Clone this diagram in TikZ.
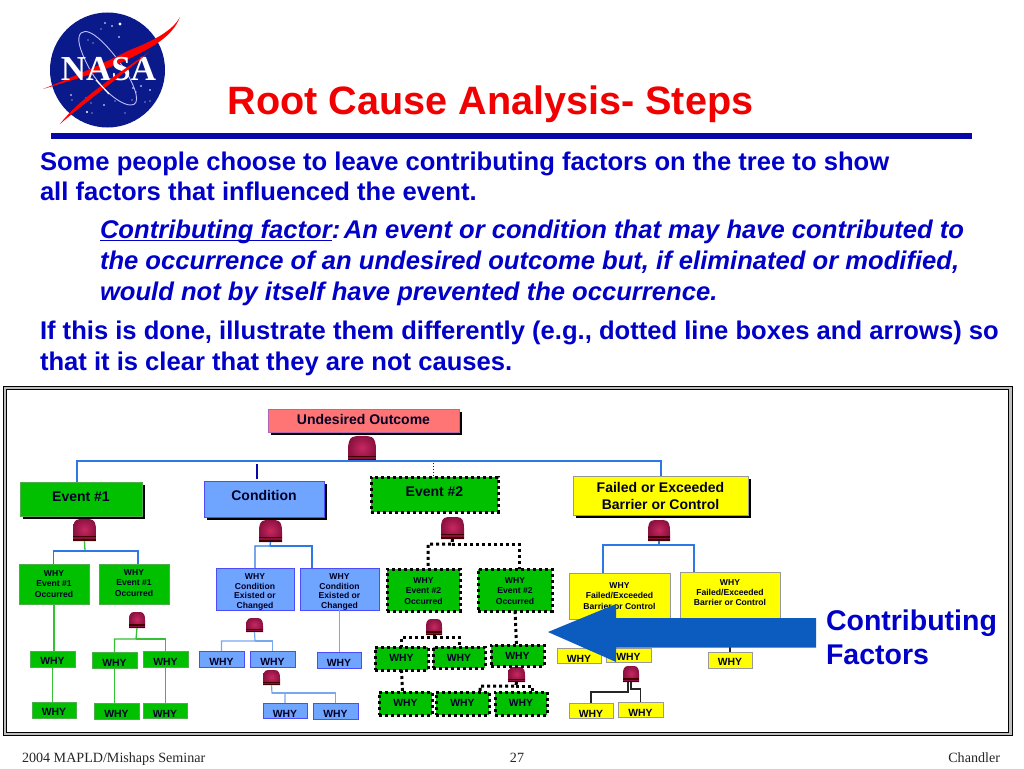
\documentclass[tikz,border=0pt]{standalone}
\usepackage{fontspec}
\setmainfont{Liberation Sans}
\newfontfamily\serifft{Liberation Serif}
\usetikzlibrary{shadows,calc}
\definecolor{nasablue}{HTML}{0B1A8A}
\definecolor{rulecol}{HTML}{0808A8}
\definecolor{headred}{HTML}{F00000}
\definecolor{txtblue}{HTML}{0000C8}
\definecolor{boxgreen}{HTML}{00C000}
\definecolor{boxblue}{HTML}{6FA5FF}
\definecolor{boxyellow}{HTML}{FFFF00}
\definecolor{boxpink}{HTML}{FF7474}
\definecolor{busblue}{HTML}{2E78E6}
\definecolor{lineblue}{HTML}{78A8F0}
\definecolor{linegreen}{HTML}{35C035}
\definecolor{arrowblue}{HTML}{0B5CBE}
\definecolor{gatelight}{HTML}{C8285F}
\definecolor{gatedark}{HTML}{8A1040}
\newcommand\dn[1]{\rule{0pt}{\dimexpr\fontcharht\font`H+#1pt+#1pt\relax}}
\newcommand\up[1]{\rule[\dimexpr-#1pt-#1pt\relax]{0pt}{0pt}}
\newcommand\myul[1]{\setbox0\hbox{#1}\rlap{\rule[-3.4pt]{\wd0}{1.7pt}}\box0 }
\tikzset{
  base/.style={inner sep=0pt,outer sep=0pt,align=center,font=\bfseries,text=black!85!blue},
  shadowed/.style={drop shadow={opacity=1,fill=black,shadow xshift=3pt,shadow yshift=-3pt}},
  gbox/.style={base,fill=boxgreen,draw=green!55!black!70,line width=.8pt},
  bbox/.style={base,fill=boxblue,draw=blue!70!white,line width=.8pt},
  ybox/.style={base,fill=boxyellow,draw=black!40,line width=.8pt},
  pbox/.style={base,fill=boxpink,draw=violet!60,line width=.8pt},
  dbox/.style={base,fill=boxgreen,draw=black,line width=3pt,dash pattern=on 3pt off 3pt},
  big/.style={font=\fontsize{14}{17}\selectfont\bfseries},
  mid/.style={font=\fontsize{8.6}{10.4}\selectfont\bfseries},
  sml/.style={font=\fontsize{10.4}{12}\selectfont\bfseries},
  busline/.style={draw=busblue,line width=1.3pt},
  lbline/.style={draw=lineblue,line width=1.2pt},
  gnline/.style={draw=linegreen,line width=1.3pt},
  kline/.style={draw=black!85,line width=1.1pt},
  dline/.style={draw=black,line width=3pt,dash pattern=on 3pt off 3pt},
  headtxt/.style={anchor=base west,inner sep=0pt,outer sep=0pt,text=txtblue,font=\fontsize{25.6}{28}\selectfont\bfseries},
  itxt/.style={anchor=base west,inner sep=0pt,outer sep=0pt,text=txtblue,font=\fontsize{25.6}{28}\selectfont\bfseries\itshape},
  foot/.style={anchor=base,inner sep=0pt,outer sep=0pt,font=\fontsize{14.1}{16}\selectfont\serifft,text=black!85},
}
% box: style, name, x1, y1, x2, y2, text
\newcommand\mybox[7]{%
  \pgfmathsetmacro\cxx{(#3+#5)/2}\pgfmathsetmacro\cyy{(#4+#6)/2}%
  \pgfmathsetmacro\wdd{#5-#3}\pgfmathsetmacro\htt{#6-#4}%
  \node[#1,minimum width=\wdd pt,minimum height=\htt pt] (#2) at (\cxx,\cyy) {#7};}
% gate: name, x1, y1, x2, y2
\newcommand\mygate[5]{%
  \pgfmathsetmacro\cxx{(#2+#4)/2}\pgfmathsetmacro\cyy{(#3+#5)/2}%
  \pgfmathsetmacro\wdd{#4-#2}\pgfmathsetmacro\htt{#5-#3}%
  \pgfmathsetmacro\ymm{#3+(#4-#2)/2}\pgfmathsetmacro\ybb{#5-(#5-#3)*0.22}%
  \pgfmathsetmacro\kk{(#4-#2)*0.276}%
  \shade[inner color=gatelight,outer color=gatedark]
    (#2,#5) -- (#2,\ymm) .. controls (#2,\ymm-2*\kk+0) and (\cxx-\kk,#3) .. (\cxx,#3)
    .. controls (\cxx+\kk,#3) and (#4,\ymm-2*\kk) .. (#4,\ymm) -- (#4,#5) -- cycle;
  \fill[black!75!red] (#2,\ybb) rectangle (#4,#5);
  \fill[gatedark] (#2,\ybb+1.2) rectangle (#4,#5-1.6);
  \node[inner sep=0pt,outer sep=0pt,minimum width=\wdd pt,minimum height=\htt pt] (#1) at (\cxx,\cyy) {};}
\begin{document}
\begin{tikzpicture}[x=1pt,y=-1pt]
\useasboundingbox (0,0) rectangle (1024,768);
\fill[white] (0,0) rectangle (1024,768);

% NASA logo
\fill[nasablue] (107.5,70) circle[radius=57.5pt];
\foreach \px/\py/\r in {120/24/1.6,105/23/.8,112/26/.8,101/29/.7,119/37/.9,88/40/.7,93/43/.7,71/95/.8,72/100/.7,86/98/.7,91/103/.7,87/112/1.2,104/105/.8,125/113/.7,133/88/.8,141/86/.8,150/90/.8,145/102/.7,132/100/.7,115/101/.6,80/106/.7,92/113/.7,136/92/.7,150/101/.6}
  \fill[white] (\px,\py) circle[radius=\r pt];
\draw[white!75!blue,line width=.9pt] (81,33) .. controls (90,25) and (112,50) .. (125,70)
   .. controls (136,88) and (142,106) .. (130,105)
   .. controls (118,104) and (98,86) .. (88,66) .. controls (80,50) and (76,38) .. (81,33) -- cycle;
\fill[red] (43,89) .. controls (85,72) and (110,60) .. (130,50) .. controls (150,42) and (172,32) .. (180,17)
   .. controls (172,38) and (150,48) .. (127,60) .. controls (105,70) and (80,78) .. (43,89) -- cycle;
\node[inner sep=0pt,outer sep=0pt,anchor=base,font=\fontsize{35}{36}\selectfont\serifft\bfseries,text=white] (nasa) at (108.5,81) {NASA};
\fill[red] (60,124) .. controls (80,98) and (115,76) .. (149,52) .. controls (118,79) and (88,100) .. (60,124) -- cycle;
\draw[white,line width=1.2pt] (96,80) -- (109,94);

% Title and rule
\node[anchor=base west,inner sep=0pt,outer sep=0pt,text=headred,font=\fontsize{39.6}{42}\selectfont\bfseries] (title) at (227.5,114) {Root Cause Analysis- Steps};
\fill[rulecol] (51,133) rectangle (972,139);

% Body text
\node[headtxt] (t1) at (40,170) {Some people choose to leave contributing factors on the tree to show};
\node[headtxt] (t2) at (40,200) {all factors that influenced the event.};
\node[itxt] (t3) at (100,238) {\myul{Contributing factor}\unskip:\hspace{3.6pt}An event or condition that may have contributed to};
\node[itxt] (t4) at (100,269) {the occurrence of an undesired outcome but, if eliminated or modified,};
\node[itxt] (t5) at (100,300) {would not by itself have prevented the occurrence.};
\node[headtxt] (t6) at (40,339) {If this is done, illustrate them differently (e.g., dotted line boxes and arrows) so};
\node[headtxt] (t7) at (40,370) {that it is clear that they are not causes.};

% Frame
\draw[black!25,line width=3.2pt] (4.8,388) rectangle (1010.2,734);
\draw[black,line width=1pt] (3,386.3) rectangle (1012,735.5);
\draw[black,line width=1pt] (6.5,389.7) rectangle (1008.5,732.5);

% Gates
\mygate{g0}{348}{436}{376}{461}
\mygate{g1}{73}{519}{96}{541}
\mygate{g2}{259}{520}{282}{542}
\mygate{g3}{441}{517}{464}{539}
\mygate{g4}{648}{520}{670}{541}
\mygate{g5}{129}{612}{145}{628}
\mygate{g6}{246}{618}{263}{632}
\mygate{g7}{263}{670}{280}{685}
\mygate{g8}{426}{619}{442}{635}
\mygate{g9}{508}{667}{525}{682}
\mygate{g10}{623}{666}{639}{682}

% Boxes
\mybox{pbox,shadowed,big}{uo}{268}{409}{459}{432}{\up{1}Undesired Outcome}
\mybox{gbox,shadowed,big}{e1}{20}{482}{142}{516}{\up{2}Event \#1}
\mybox{bbox,shadowed,big}{c1}{204}{481}{324}{517}{\up{4}Condition}
\mybox{dbox,big}{e2}{371}{477}{498}{512}{\up{3}Event \#2}
\mybox{ybox,shadowed,big}{f1}{573}{476}{748}{515}{Failed or Exceeded\\Barrier or Control}

\mybox{gbox,mid}{ea}{19}{564}{89}{604}{WHY\\Event \#1\\Occurred}
\mybox{gbox,mid}{eb}{99}{564}{169}{604}{WHY\\Event \#1\\Occurred\up{1}}
\mybox{bbox,mid}{ca}{216}{568}{294}{610}{\dn{3}WHY\\[-1pt]Condition\\[-1pt]Existed or\\[-1pt]Changed}
\mybox{bbox,mid}{cb}{300}{568}{379}{610}{\dn{3}WHY\\[-1pt]Condition\\[-1pt]Existed or\\[-1pt]Changed}
\mybox{dbox,mid}{da}{387}{569}{460}{611}{\dn{1}WHY\\Event \#2\\Occurred}
\mybox{dbox,mid}{db}{478}{569}{552}{611}{\dn{1}WHY\\Event \#2\\Occurred}
\mybox{ybox,mid}{fa}{569}{573}{670}{619}{WHY\\Failed/Exceeded\\Barrier or Control}
\mybox{ybox,mid}{fb}{680}{572}{780}{618}{WHY\\Failed/Exceeded\\Barrier or Control\up{2.5}}

\mybox{gbox,sml}{s1}{30}{651}{75}{667}{\dn{2}WHY}
\mybox{gbox,sml}{s2}{92}{652}{137}{668}{\dn{3}WHY}
\mybox{gbox,sml}{s3}{143}{651}{188}{667}{\dn{3}WHY}
\mybox{gbox,sml}{s4}{32}{702}{76}{718}{\dn{2}WHY}
\mybox{gbox,sml}{s5}{94}{703}{139}{719}{\dn{3}WHY}
\mybox{gbox,sml}{s6}{143}{703}{187}{718}{\dn{3}WHY}
\mybox{bbox,sml}{b1}{199}{651}{244}{667}{\dn{3}WHY}
\mybox{bbox,sml}{b2}{250}{651}{295}{667}{\dn{3}WHY}
\mybox{bbox,sml}{b3}{317}{652}{361}{668}{\dn{3}WHY}
\mybox{bbox,sml}{b4}{263}{703}{307}{718}{\dn{3}WHY}
\mybox{bbox,sml}{b5}{313}{703}{358}{719}{\dn{3}WHY}
\mybox{dbox,sml}{d1}{375}{647}{428}{670}{\up{1}WHY}
\mybox{dbox,sml}{d2}{433}{647}{485}{668}{WHY}
\mybox{dbox,sml}{d3}{491}{645}{544}{666}{WHY}
\mybox{dbox,sml}{d4}{379}{692}{432}{715}{\up{1}WHY}
\mybox{dbox,sml}{d5}{436}{692}{489}{715}{\up{1}WHY}
\mybox{dbox,sml}{d6}{495}{692}{547}{715}{\up{1}WHY}
\mybox{ybox,sml}{y1}{557}{648}{601}{663}{\dn{3}WHY}
\mybox{ybox,sml}{y2}{606}{648}{651}{662}{\dn{2}WHY}
\mybox{ybox,sml}{y3}{708}{652}{752}{668}{\dn{2}WHY}
\mybox{ybox,sml}{y4}{569}{703}{613}{718}{\dn{3}WHY}
\mybox{ybox,sml}{y5}{618}{702}{663}{717}{\dn{3}WHY}

% Bus coordinates
\coordinate (bus0) at (362,461);
\coordinate (bus1) at (85,551);
\coordinate (bus2) at (270,546);
\coordinate (bus3) at (452,544);
\coordinate (bus4) at (659,545);
\coordinate (bus5) at (136,639);
\coordinate (bus6) at (255,641);
\coordinate (bus7) at (272,693);
\coordinate (bus8) at (434,637);
\coordinate (bus9) at (516,686);
\coordinate (bus10) at (631,689);
\coordinate (bus10b) at (628,692);

% Connectors
\draw[busline] (g0.south) -- (bus0) -| ([xshift=-4pt]e1.north);
\draw[busline] (bus0) -| ([xshift=.5pt]f1.north);
\draw[draw=rulecol,line width=1.2pt] ([xshift=-7pt,yshift=2pt]c1.north) -- ++(0,-15);
\draw[draw=rulecol,line width=1pt,dotted] ([xshift=-1pt,yshift=1pt]e2.north) -- ++(0,-14);
\draw[gnline] (g1.south) -- (bus1);
\draw[busline] (bus1) -| ([xshift=-.5pt]ea.north);
\draw[busline] (bus1) -| ([xshift=4pt]eb.north);
\draw[busline] (g2.south) -- (bus2) -| (ca.north);
\draw[busline] (bus2) -| ([xshift=-27.5pt]cb.north);
\draw[dline] (g3.south) -- (bus3) -| ([xshift=4.5pt]da.north);
\draw[dline] (bus3) -| ([xshift=4pt]db.north);
\draw[busline] (g4.south) -- (bus4) -| ([xshift=-16.5pt]fa.north);
\draw[busline] (bus4) -| ([xshift=-36pt]fb.north);
\draw[gnline] (ea.south) -- (ea.south |- s1.north);
\draw[gnline] (s1.south) -- (s1.south |- s4.north);
\draw[gnline] (g5.south) -- (bus5) -| (s2.north);
\draw[gnline] (bus5) -| (s3.north);
\draw[gnline] (s2.south) -- (s2.south |- s5.north);
\draw[gnline] (s3.south) -- (s3.south |- s6.north);
\draw[lbline] (g6.south) -- (bus6) -| (b1.north);
\draw[lbline] (bus6) -| (b2.north);
\draw[lbline] (cb.south) -- (cb.south |- b3.north);
\draw[lbline] (g7.south) -- (bus7) -| (b4.north);
\draw[lbline] (bus7) -| (b5.north);
\draw[dline] (g8.south) -- (bus8) -| (d1.north);
\draw[dline] (bus8) -| (d2.north);
\draw[dline] (d1.south) -- ([xshift=-3pt]d4.north);
\draw[dline] (db.south) -- ([xshift=-1pt]d3.north);
\draw[dline] (g9.south) -- (bus9) -| ([xshift=17.5pt]d5.north);
\draw[dline] (bus9) -| ([xshift=11pt]d6.north);
\draw[kline] (g10.south) -- (bus10) -| (y5.north);
\draw[kline] ([xshift=-3pt]g10.south) -- (bus10b) -| (y4.north);
\draw[kline] (fb.south) -- (y3.north);

% Big arrow
\coordinate (atip) at (548,632);
\fill[arrowblue] (atip) -- (616,604) -- (616,618) -- (816,618) -- (816,647.5) -- (616,647.5) -- (616,662) -- cycle;

% Contributing factors label
\node[anchor=base west,inner sep=0pt,outer sep=0pt,text=txtblue,font=\fontsize{28.5}{32}\selectfont\bfseries] (cf1) at (826,630) {Contributing};
\node[anchor=base west,inner sep=0pt,outer sep=0pt,text=txtblue,font=\fontsize{28.5}{32}\selectfont\bfseries] (cf2) at (826,664) {Factors};

% Footer
\node[foot,anchor=base west] (fl) at (22,762) {2004 MAPLD/Mishaps Seminar};
\node[foot] (fc) at (517,762) {27};
\node[foot,anchor=base east] (fr) at (1000,762) {Chandler};
\end{tikzpicture}
\end{document}
